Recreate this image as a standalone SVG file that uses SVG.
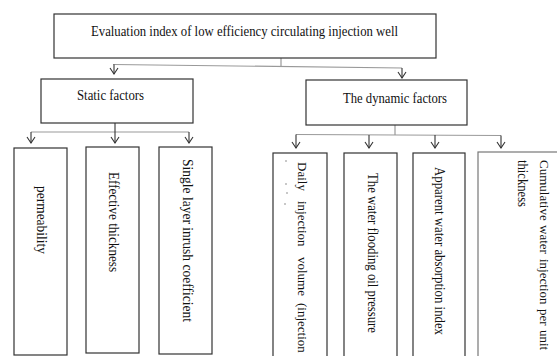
<svg xmlns="http://www.w3.org/2000/svg" width="557" height="356" viewBox="0 0 557 356">
<defs>
<style>
.box{fill:#fff;stroke:#333;stroke-width:1.2}
.gbox{fill:#fff;stroke:#777;stroke-width:1.2}
.t{font-family:"Liberation Serif","Times New Roman",serif;font-size:14px;fill:#111}
.w{font-family:"Liberation Serif","Times New Roman",serif;font-size:13px;fill:#111}
.c{fill:none;stroke:#999;stroke-width:1.2}
.a{fill:none;stroke:#333;stroke-width:1.1}
</style>
</defs>
<rect width="557" height="356" fill="#fff"/>
<g id="connectors">
<line class="c" x1="281" y1="58" x2="281" y2="66.5"/>
<line class="c" x1="113" y1="64.5" x2="402" y2="68"/>
<line class="a" x1="114" y1="64.5" x2="114" y2="74"/>
<path class="a" d="M110,68 L114,74 L118,68"/>
<line class="a" x1="402" y1="68" x2="402" y2="78"/>
<path class="a" d="M398,72 L402,78 L406,72"/>

<line class="c" x1="31" y1="132" x2="189" y2="132"/>
<line class="a" x1="115" y1="123" x2="115" y2="143"/>
<path class="a" d="M111,137 L115,143 L119,137"/>
<line class="a" x1="31" y1="132" x2="31" y2="143"/>
<path class="a" d="M27,137 L31,143 L35,137"/>
<line class="a" x1="189" y1="132" x2="189" y2="143"/>
<path class="a" d="M185,137 L189,143 L193,137"/>

<line class="c" x1="395" y1="125" x2="395" y2="135"/>
<line class="c" x1="296" y1="134.5" x2="501" y2="135.5"/>
<line class="a" x1="296" y1="134.5" x2="296" y2="148"/>
<path class="a" d="M292,142 L296,148 L300,142"/>
<line class="a" x1="369" y1="135" x2="369" y2="148"/>
<path class="a" d="M365,142 L369,148 L373,142"/>
<line class="a" x1="435" y1="135" x2="435" y2="148"/>
<path class="a" d="M431,142 L435,148 L439,142"/>
<line class="a" x1="501" y1="135.5" x2="501" y2="148"/>
<path class="a" d="M497,142 L501,148 L505,142"/>
</g>
<g id="root">
<rect class="box" x="54" y="14" width="382" height="44"/>
<text class="t" x="91" y="36" textLength="307" lengthAdjust="spacingAndGlyphs">Evaluation index of low efficiency circulating injection well</text>
</g>
<g id="static">
<rect class="box" x="41" y="79" width="152" height="44"/>
<text class="t" x="77" y="100" textLength="67" lengthAdjust="spacingAndGlyphs">Static factors</text>
</g>
<g id="dynamic">
<rect class="box" x="306" y="80" width="161" height="45"/>
<text class="t" x="343" y="103" textLength="104" lengthAdjust="spacingAndGlyphs">The dynamic factors</text>
</g>
<g id="permeability">
<rect class="box" x="14" y="148" width="53" height="207"/>
<text class="t" transform="translate(37,186) rotate(90)" textLength="68" lengthAdjust="spacingAndGlyphs">permeability</text>
</g>
<g id="effective">
<rect class="box" x="86" y="147" width="53" height="206"/>
<text class="t" transform="translate(109,172) rotate(90)" textLength="100" lengthAdjust="spacingAndGlyphs">Effective thickness</text>
</g>
<g id="single">
<rect class="box" x="159" y="147" width="53" height="207"/>
<text class="t" transform="translate(183,159) rotate(90)" textLength="163" lengthAdjust="spacingAndGlyphs">Single layer inrush coefficient</text>
</g>
<g id="daily">
<rect class="box" x="273" y="153" width="54" height="210"/>
<text class="w" transform="translate(298,162) rotate(90)">Daily</text>
<text class="w" transform="translate(298,201) rotate(90)">injection</text>
<text class="w" transform="translate(298,257) rotate(90)">volume</text>
<text class="w" transform="translate(298,303) rotate(90)">(injection</text>
<g fill="#666"><circle cx="286" cy="161" r="0.7"/><circle cx="286" cy="184" r="0.7"/><circle cx="287" cy="193" r="0.7"/><circle cx="285" cy="204" r="0.7"/></g>
</g>
<g id="flooding">
<rect class="box" x="344" y="153" width="53" height="210"/>
<text class="t" transform="translate(368,173) rotate(90)" textLength="160" lengthAdjust="spacingAndGlyphs">The water flooding oil pressure</text>
</g>
<g id="apparent">
<rect class="box" x="413" y="153" width="52" height="210"/>
<text class="t" transform="translate(435,167) rotate(90)" textLength="168" lengthAdjust="spacingAndGlyphs">Apparent water absorption index</text>
</g>
<g id="cumulative">
<rect class="gbox" x="478" y="152" width="100" height="215"/>
<text class="w" transform="translate(540,160) rotate(90)">Cumulative</text>
<text class="w" transform="translate(540,225) rotate(90)">water</text>
<text class="w" transform="translate(540,259) rotate(90)">injection</text>
<text class="w" transform="translate(540,309) rotate(90)">per</text>
<text class="w" transform="translate(540,330) rotate(90)">unit</text>
<text class="t" transform="translate(518,160) rotate(90)" textLength="47" lengthAdjust="spacingAndGlyphs">thickness</text>
</g>
</svg>
